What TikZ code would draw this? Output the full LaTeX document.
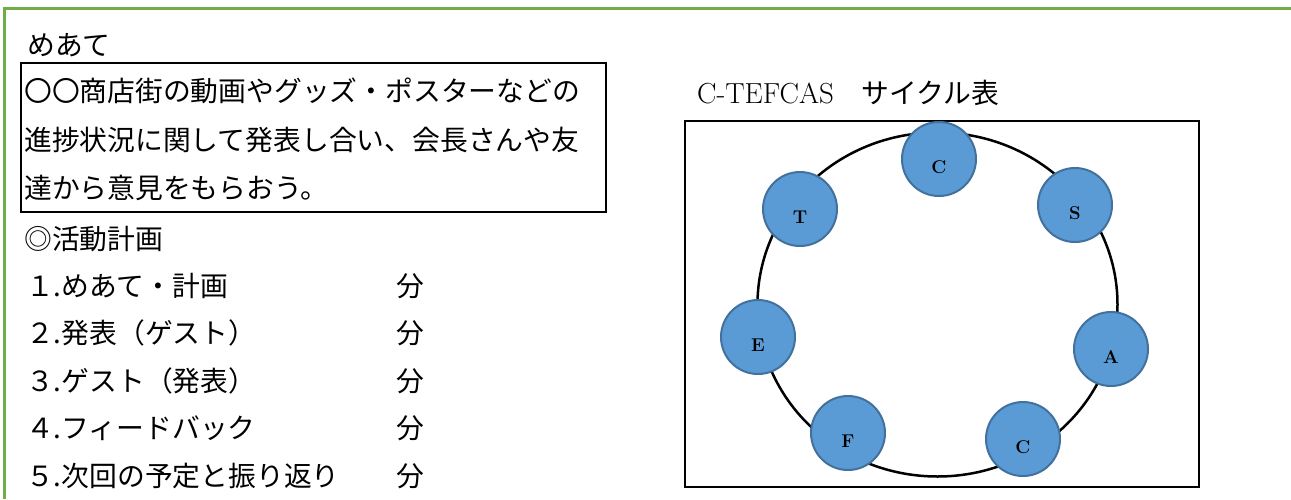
\documentclass[tikz,border=0pt]{standalone}
\usepackage{fontspec}
\newfontfamily\jp{Noto Sans CJK JP}
\definecolor{framegreen}{HTML}{70AD47}
\definecolor{cfill}{HTML}{5B9BD5}
\definecolor{cdraw}{HTML}{41719C}
\begin{document}
\begin{tikzpicture}[x=1pt,y=-1pt,
  jtext/.style={anchor=base west, inner sep=0pt, font=\jp\fontsize{27.8}{30}\selectfont},
  cyc/.style={circle, fill=cfill, draw=cdraw, line width=2pt, minimum size=74pt, inner sep=0pt},
  lbl/.style={font=\bfseries\fontsize{18.5}{20}\selectfont, inner sep=0pt},
  boxline/.style={draw=black, line width=2.5pt}]
\useasboundingbox (0,0) rectangle (1291,499);
% green frame
\draw[framegreen, line width=3pt] (4.5,499) -- (4.5,8.5) -- (1291,8.5);
% goal
\node[jtext] (goal) at (27,55) {めあて};
\draw[boxline] (21,63) rectangle (606,212);
\node[jtext] (g1) at (24,101) {〇〇商店街の動画やグッズ・ポスターなどの};
\node[jtext] (g2) at (24,150) {進捗状況に関して発表し合い、会長さんや友};
\node[jtext] (g3) at (24,198) {達から意見をもらおう。};
% plan
\node[jtext] (plan) at (24,249) {◎活動計画};
\node[jtext] (p1) at (26,296) {１.めあて・計画};
\node[jtext] (p2) at (26,343) {２.発表（ゲスト）};
\node[jtext] (p3) at (26,391) {３.ゲスト（発表）};
\node[jtext] (p4) at (26,438) {４.フィードバック};
\node[jtext] (p5) at (26,486) {５.次回の予定と振り返り};
\node[jtext] (m1) at (396,296) {分};
\node[jtext] (m2) at (396,343) {分};
\node[jtext] (m3) at (396,391) {分};
\node[jtext] (m4) at (396,438) {分};
\node[jtext] (m5) at (396,486) {分};
% cycle
\node[anchor=base west, inner sep=0pt, font=\fontsize{29}{32}\selectfont] (title) at (697,103) {C-TEFCAS{\jp\fontsize{27.8}{30}\selectfont　サイクル表}};
\draw[boxline] (685,121) rectangle (1199,487);
\draw[line width=2.5pt] (937.5,304.5) ellipse [x radius=180pt, y radius=172pt];
\node[cyc] (cC1) at (939,159) {};
\node[cyc] (cS) at (1075,205) {};
\node[cyc] (cA) at (1111,349) {};
\node[cyc] (cC2) at (1023,439) {};
\node[cyc] (cF) at (848,433) {};
\node[cyc] (cE) at (758,337) {};
\node[cyc] (cT) at (800,209) {};
\node[lbl] (lC1) at ([yshift=-8pt]cC1.center) {C};
\node[lbl] (lS) at ([yshift=-8pt]cS.center) {S};
\node[lbl] (lA) at ([yshift=-8pt]cA.center) {A};
\node[lbl] (lC2) at ([yshift=-8pt]cC2.center) {C};
\node[lbl] (lF) at ([yshift=-8pt]cF.center) {F};
\node[lbl] (lE) at ([yshift=-8pt]cE.center) {E};
\node[lbl] (lT) at ([yshift=-8pt]cT.center) {T};
\end{tikzpicture}
\end{document}
